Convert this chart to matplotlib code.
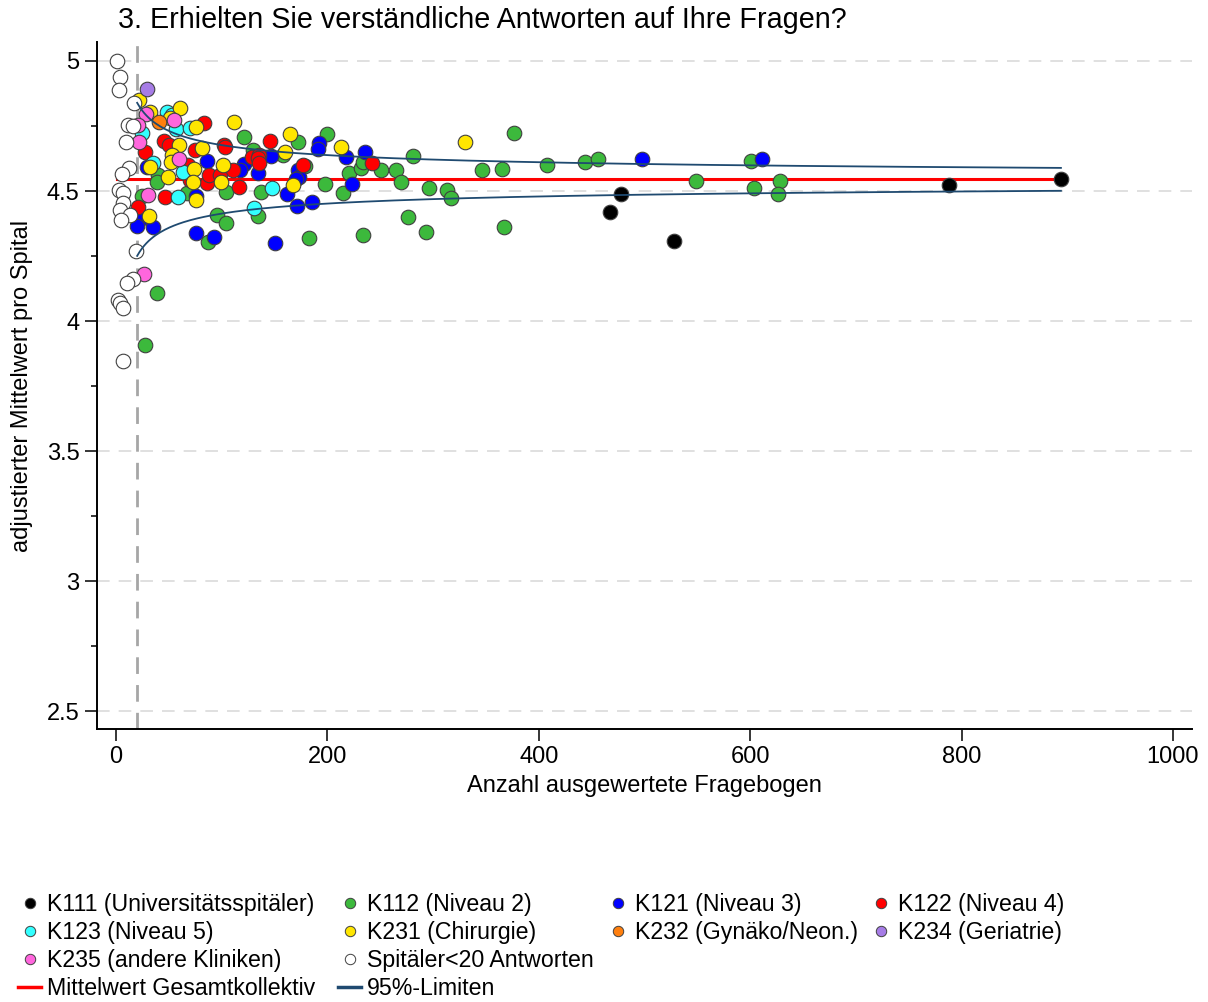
import matplotlib
matplotlib.use("Agg")
import matplotlib.pyplot as plt
from matplotlib.lines import Line2D
import numpy as np

plt.rcParams['font.family'] = ['Liberation Sans', 'DejaVu Sans']

# Anzahl Fragebogen (x) und adjustierter Mittelwert (y) je Spitaltyp
k111_n = [467, 478, 528, 788, 894]
k111_y = [4.419, 4.488, 4.308, 4.523, 4.548]

k112_n = [121, 172, 200, 130, 158, 179, 220, 232, 234, 251, 265, 281, 270, 296, 313,
          317, 346, 365, 377, 408, 444, 456, 601, 549, 604, 628, 626, 276, 293, 367,
          234, 183, 198, 215, 137, 134, 104, 40, 39, 25, 67, 96, 104, 87, 39, 27]
k112_y = [4.708, 4.688, 4.719, 4.658, 4.638, 4.596, 4.569, 4.588, 4.612, 4.581, 4.581,
          4.635, 4.535, 4.512, 4.504, 4.473, 4.581, 4.585, 4.723, 4.600, 4.612, 4.623,
          4.615, 4.538, 4.512, 4.538, 4.488, 4.400, 4.342, 4.362, 4.331, 4.319, 4.527,
          4.492, 4.496, 4.404, 4.496, 4.562, 4.535, 4.481, 4.492, 4.408, 4.377, 4.304,
          4.108, 3.910]

k121_n = [86, 29, 121, 117, 134, 147, 192, 191, 218, 236, 172, 173, 170, 162, 223,
          171, 185, 76, 25, 20, 35, 76, 93, 150, 498, 611]
k121_y = [4.615, 4.592, 4.604, 4.581, 4.569, 4.635, 4.685, 4.662, 4.631, 4.650, 4.581,
          4.554, 4.546, 4.488, 4.527, 4.442, 4.458, 4.481, 4.396, 4.365, 4.362, 4.338,
          4.323, 4.300, 4.623, 4.623]

k122_n = [83, 45, 50, 27, 75, 102, 103, 146, 129, 135, 134, 135, 177, 242, 68, 70,
          86, 88, 98, 111, 116, 46, 21]
k122_y = [4.762, 4.692, 4.677, 4.650, 4.658, 4.677, 4.669, 4.692, 4.631, 4.638, 4.627,
          4.608, 4.600, 4.608, 4.600, 4.542, 4.531, 4.562, 4.562, 4.581, 4.515, 4.477,
          4.438]

k123_n = [48, 53, 57, 70, 25, 35, 63, 59, 148, 131]
k123_y = [4.804, 4.792, 4.738, 4.742, 4.723, 4.608, 4.573, 4.477, 4.512, 4.435]

k231_n = [22, 32, 61, 51, 76, 112, 60, 53, 52, 81, 32, 49, 74, 73, 101, 99, 76, 31,
          167, 165, 213, 330, 160]
k231_y = [4.850, 4.804, 4.819, 4.781, 4.746, 4.765, 4.677, 4.638, 4.612, 4.665, 4.592,
          4.554, 4.585, 4.535, 4.600, 4.535, 4.465, 4.404, 4.523, 4.719, 4.669, 4.688,
          4.650]

k232_n = [41]
k232_y = [4.765]

k234_n = [29]
k234_y = [4.892]

k235_n = [28, 55, 21, 22, 60, 30, 26]
k235_y = [4.796, 4.773, 4.754, 4.688, 4.623, 4.485, 4.181]

klein_n = [1, 4, 3, 17, 11, 16, 9, 12, 6, 3, 7, 7, 4, 13, 5, 19, 16, 10, 2, 4, 7, 7]
klein_y = [5.000, 4.938, 4.888, 4.838, 4.754, 4.750, 4.688, 4.588, 4.565, 4.504, 4.492,
           4.454, 4.427, 4.408, 4.388, 4.269, 4.162, 4.146, 4.081, 4.069, 4.050, 3.846]

gesamt_mittel = 4.545
limit_faktor = 1.316   # 1.96 * Standardabweichung
n_min_limit = 20
n_max = 894

gruppen = [
    ("K111 (Universitätsspitäler)", k111_n, k111_y, "#000000"),
    ("K112 (Niveau 2)", k112_n, k112_y, "#3cb93c"),
    ("K121 (Niveau 3)", k121_n, k121_y, "#0000ff"),
    ("K122 (Niveau 4)", k122_n, k122_y, "#ff0000"),
    ("K123 (Niveau 5)", k123_n, k123_y, "#33ffff"),
    ("K231 (Chirurgie)", k231_n, k231_y, "#ffe600"),
    ("K232 (Gynäko/Neon.)", k232_n, k232_y, "#ff7f0e"),
    ("K234 (Geriatrie)", k234_n, k234_y, "#a67ce6"),
    ("K235 (andere Kliniken)", k235_n, k235_y, "#ff66dd"),
    ("Spitäler<20 Antworten", klein_n, klein_y, "#ffffff"),
]

fig = plt.figure(figsize=(12.08, 10.02), dpi=100)
ax = fig.add_axes([97 / 1208, 1 - 729 / 1002, (1192 - 97) / 1208, (729 - 42) / 1002])

ax.set_xlim(-18, 1018)
ax.set_ylim(2.432, 5.073)

for yv in np.arange(2.5, 5.01, 0.5):
    ax.axhline(yv, color="#dddddd", lw=1.3, dashes=(7, 5), zorder=0)
ax.axvline(n_min_limit, color="#a6a6a6", lw=2, dashes=(6, 4), zorder=1)

ax.plot([min(klein_n), n_max], [gesamt_mittel, gesamt_mittel], color="#ff0000", lw=2.2, zorder=2)

handles = {}
for name, xs, ys, col in gruppen:
    ax.scatter(xs, ys, s=110, c=col, edgecolors="#404040", linewidths=0.8, zorder=3)
    handles[name] = Line2D([], [], ls="none", marker="o", markersize=7.5,
                           markerfacecolor=col, markeredgecolor="#404040",
                           markeredgewidth=0.7, label=name)

n_lim = np.linspace(n_min_limit, n_max, 400)
ax.plot(n_lim, gesamt_mittel + limit_faktor / np.sqrt(n_lim), color="#1f4a70", lw=1.3, zorder=4)
ax.plot(n_lim, gesamt_mittel - limit_faktor / np.sqrt(n_lim), color="#1f4a70", lw=1.3, zorder=4)

ax.set_xticks([0, 200, 400, 600, 800, 1000])
ax.set_yticks([2.5, 3, 3.5, 4, 4.5, 5])
ax.set_yticklabels(["2.5", "3", "3.5", "4", "4.5", "5"])
ax.set_yticks(np.arange(2.5, 5.01, 0.25), minor=True)
ax.tick_params(axis="both", which="major", length=8.5, width=1.1, labelsize=17, pad=4)
ax.tick_params(axis="y", which="minor", length=4.5, width=1.1)
for side in ["top", "right"]:
    ax.spines[side].set_visible(False)
for side in ["left", "bottom"]:
    ax.spines[side].set_linewidth(1.4)

ax.set_xlabel("Anzahl ausgewertete Fragebogen", fontsize=17, labelpad=5)
ax.set_ylabel("adjustierter Mittelwert pro Spital", fontsize=17, labelpad=10)

fig.text(118 / 1208, 1 - 28 / 1002, "3. Erhielten Sie verständliche Antworten auf Ihre Fragen?",
         fontsize=20.7, va="baseline", ha="left")

# Legende: vier Spalten, jede einzeln platziert
mittel_h = Line2D([], [], color="#ff0000", lw=2.5, label="Mittelwert Gesamtkollektiv")
limit_h = Line2D([], [], color="#1f4a70", lw=2.5, label="95%-Limiten")
spalten = [
    (18, [handles["K111 (Universitätsspitäler)"], handles["K123 (Niveau 5)"],
          handles["K235 (andere Kliniken)"], mittel_h]),
    (338, [handles["K112 (Niveau 2)"], handles["K231 (Chirurgie)"],
           handles["Spitäler<20 Antworten"], limit_h]),
    (606, [handles["K121 (Niveau 3)"], handles["K232 (Gynäko/Neon.)"]]),
    (869, [handles["K122 (Niveau 4)"], handles["K234 (Geriatrie)"]]),
]
for x_px, hs in spalten:
    leg = fig.legend(handles=hs, labels=[h.get_label() for h in hs],
                     loc="upper left", bbox_to_anchor=(x_px / 1208, 1 - 893 / 1002),
                     frameon=False, fontsize=16.7, handlelength=1.0, handletextpad=0.25,
                     labelspacing=0.215, borderpad=0, borderaxespad=0)

fig.savefig("out.png", dpi=100)
